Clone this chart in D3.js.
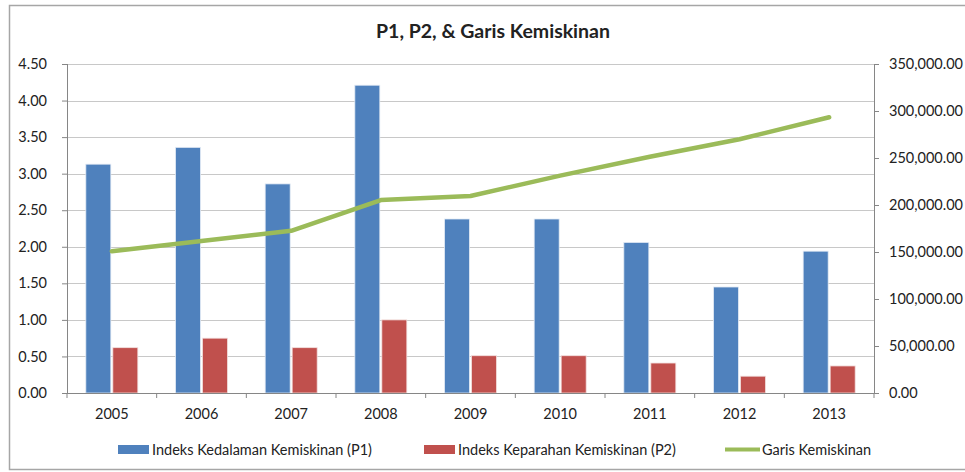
<html>
<head>
<script src="https://cdn.jsdelivr.net/npm/d3@7"></script>
<style>
  body { margin: 0; background: #fff; }
  text { font-family: Lato, "Open Sans", sans-serif; fill: #222; }
</style>
</head>
<body>
<svg id="chart" width="965" height="472"></svg>
<script>
var years = ["2005", "2006", "2007", "2008", "2009", "2010", "2011", "2012", "2013"];
var p1 = [3.13, 3.36, 2.86, 4.21, 2.38, 2.38, 2.06, 1.45, 1.94];
var p2 = [0.62, 0.75, 0.62, 1.00, 0.51, 0.51, 0.41, 0.23, 0.37];
var garis = [150800, 161700, 172600, 205300, 209600, 231200, 251400, 269900, 293300];
var leftTicks = [0, 0.5, 1, 1.5, 2, 2.5, 3, 3.5, 4, 4.5];
var rightTicks = [0, 50000, 100000, 150000, 200000, 250000, 300000, 350000];
var names = ["Indeks Kedalaman Kemiskinan (P1)", "Indeks Keparahan Kemiskinan (P2)", "Garis Kemiskinan"];

var blue = "#4f81bd", red = "#c0504d", green = "#9bbb59";
var L = 67, R = 874, T = 64, B = 393;

var svg = d3.select("#chart");

// frame
svg.append("rect").attr("x", 9.5).attr("y", 5.5).attr("width", 970).attr("height", 464)
  .attr("fill", "#fff").attr("stroke", "#a6a6a6").attr("stroke-width", 1.5);

svg.append("text").attr("x", 493).attr("y", 38).attr("text-anchor", "middle")
  .style("font-size", "19.5px").style("font-weight", "bold").text("P1, P2, & Garis Kemiskinan");

var x = d3.scaleBand().domain(years).range([L, R]);
var y = d3.scaleLinear().domain([0, 4.5]).range([B, T]);
var y2 = d3.scaleLinear().domain([0, 350000]).range([B, T]);

// gridlines
svg.append("g").selectAll("line").data(leftTicks).enter().append("line")
  .attr("x1", L).attr("x2", R)
  .attr("y1", function (d) { return Math.round(y(d)) + 0.5; })
  .attr("y2", function (d) { return Math.round(y(d)) + 0.5; })
  .attr("stroke", "#c8c8c8");

// bars
var bw = 25, gap = 2;
svg.append("g").selectAll("rect").data(p1).enter().append("rect")
  .attr("x", function (d, i) { return x(years[i]) + x.bandwidth() / 2 - bw - gap / 2; })
  .attr("y", function (d) { return y(d); })
  .attr("width", bw)
  .attr("height", function (d) { return B - y(d); })
  .attr("fill", blue).attr("stroke", "#e4ebf5").attr("stroke-width", 0.8);
svg.append("g").selectAll("rect").data(p2).enter().append("rect")
  .attr("x", function (d, i) { return x(years[i]) + x.bandwidth() / 2 + gap / 2; })
  .attr("y", function (d) { return y(d); })
  .attr("width", bw)
  .attr("height", function (d) { return B - y(d); })
  .attr("fill", red).attr("stroke", "#f2e0df").attr("stroke-width", 0.8);

// line
var line = d3.line()
  .x(function (d, i) { return x(years[i]) + x.bandwidth() / 2; })
  .y(function (d) { return y2(d); });
svg.append("path").datum(garis).attr("d", line)
  .attr("fill", "none").attr("stroke", green).attr("stroke-width", 4.5)
  .attr("stroke-linejoin", "round").attr("stroke-linecap", "round");

// axes
var fmtL = d3.format(".2f");
var fmtR = d3.format(",.2f");
var gl = svg.append("g").attr("transform", "translate(" + L + ",0)")
  .call(d3.axisLeft(y).tickValues(leftTicks).tickFormat(fmtL).tickSize(5).tickPadding(15));
var gr = svg.append("g").attr("transform", "translate(" + R + ",0)")
  .call(d3.axisRight(y2).tickValues(rightTicks).tickFormat(fmtR).tickSize(5).tickPadding(10));
var gx = svg.append("g").attr("transform", "translate(0," + B + ")")
  .call(d3.axisBottom(x).tickSize(0).tickPadding(16));
// category boundary ticks
gx.selectAll(".sep").data(d3.range(years.length + 1)).enter().append("line")
  .attr("class", "sep")
  .attr("x1", function (i) { return L + i * x.step(); })
  .attr("x2", function (i) { return L + i * x.step(); })
  .attr("y1", 0).attr("y2", 5).attr("stroke", "#868686");

[gl, gr, gx].forEach(function (g) {
  g.selectAll(".domain").attr("stroke", "#868686");
  g.selectAll(".tick line").attr("stroke", "#868686");
  g.selectAll("text").style("font-size", "14.5px").style("font-family", "Lato, 'Open Sans', sans-serif").attr("fill", "#222");
});
gl.select(".domain").attr("d", "M0.5," + T + "V" + B);
gr.select(".domain").attr("d", "M0.5," + T + "V" + B);
gx.select(".domain").attr("d", "M" + L + ",0.5H" + R);

// legend
var leg = svg.append("g");
var items = [
  { x: 118, color: blue, type: "rect" },
  { x: 424, color: red, type: "rect" },
  { x: 725, color: green, type: "line" }
];
items.forEach(function (it, i) {
  if (it.type == "rect") {
    leg.append("rect").attr("x", it.x).attr("y", 445).attr("width", 31).attr("height", 9).attr("fill", it.color);
  } else {
    leg.append("line").attr("x1", it.x).attr("x2", it.x + 35).attr("y1", 449.5).attr("y2", 449.5)
      .attr("stroke", it.color).attr("stroke-width", 4);
  }
  leg.append("text").attr("x", it.x + (it.type == "rect" ? 34 : 37)).attr("y", 454.5)
    .style("font-size", "14.5px").text(names[i]);
});
</script>
</body>
</html>
